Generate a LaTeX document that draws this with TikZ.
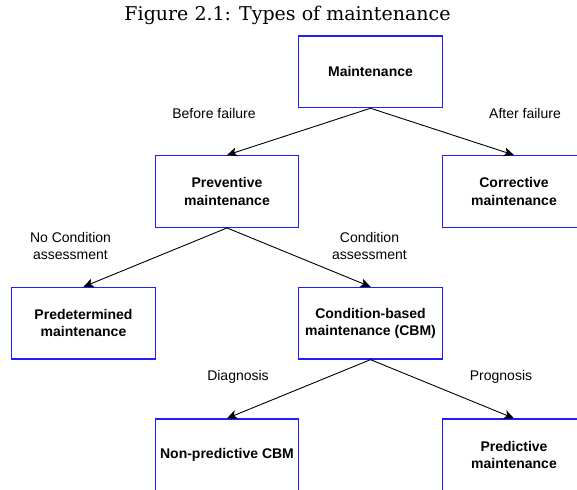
\documentclass[tikz,border=0pt]{standalone}
\usepackage{fontspec}
\setmainfont{Liberation Sans}
\newfontfamily\titlefont{DejaVu Serif}
\usetikzlibrary{arrows.meta}

\definecolor{boxblue}{RGB}{30,30,255}

\tikzset{
  box/.style={draw=boxblue, line width=1.2pt, rectangle, inner sep=0pt,
    minimum width=143.5pt, minimum height=71.7pt, align=center,
    font=\fontsize{14}{17.5}\selectfont\bfseries},
  lbl/.style={inner sep=0pt, align=center,
    font=\fontsize{14}{17.5}\selectfont},
  link/.style={draw=black, line width=0.9pt,
    -{Stealth[length=10pt,width=9pt,inset=2.5pt]}}
}

\begin{document}
\begin{tikzpicture}[x=1pt,y=-1pt]
\useasboundingbox (0,0) rectangle (577,489);
\clip (0,0) rectangle (577,489);

% caption
\node[anchor=base, inner sep=0pt, font=\titlefont\fontsize{19}{22}\selectfont]
  (title) at (287.5,21) {Figure 2.1: Types of maintenance};

% boxes
\node[box] (maint)  at (370.5,71.8)  {Maintenance};
\node[box] (prev)   at (227,191.5)   {Preventive\\maintenance};
\node[box] (corr)   at (514,191.5)   {Corrective\\maintenance};
\node[box] (pred)   at (83.5,323.2)  {Predetermined\\maintenance};
\node[box] (cbm)    at (370.5,323.2) {Condition-based\\maintenance (CBM)};
\node[box] (nonp)   at (227,454.8)   {Non-predictive CBM};
\node[box] (predm)  at (514,454.8)   {Predictive\\maintenance};

% connectors
\draw[link] (maint.south) -- (prev.north);
\draw[link] (maint.south) -- (corr.north);
\draw[link] (prev.south)  -- (pred.north);
\draw[link] (prev.south)  -- (cbm.north);
\draw[link] (cbm.south)   -- (nonp.north);
\draw[link] (cbm.south)   -- (predm.north);

% connector labels
\node[lbl] (l1) at (214,113)   {Before failure};
\node[lbl] (l2) at (525,113)   {After failure};
\node[lbl] (l3) at (70.5,246)  {No Condition\\assessment};
\node[lbl] (l4) at (369.5,246) {Condition\\assessment};
\node[lbl] (l5) at (238,377)   {Diagnosis};
\node[lbl] (l6) at (501,377)   {Prognosis};
\end{tikzpicture}
\end{document}
